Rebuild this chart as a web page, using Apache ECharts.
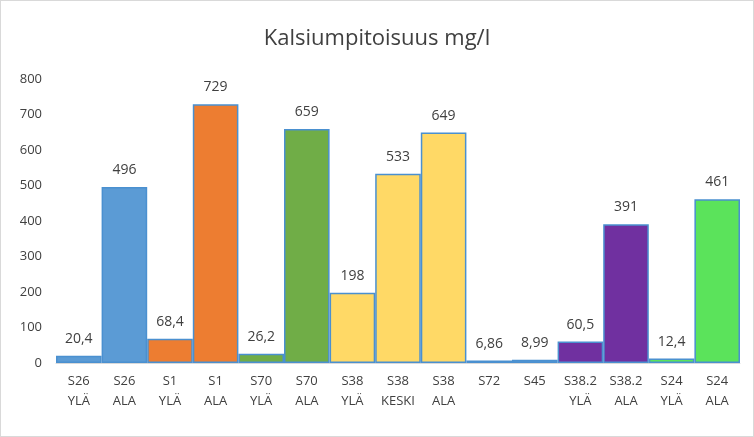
<!DOCTYPE html>
<html><head><meta charset="utf-8">
<script src="https://cdn.jsdelivr.net/npm/echarts@6/dist/echarts.min.js"></script>
<style>html,body{margin:0;padding:0;background:#fff}#main{width:752px;height:435px;border:1px solid #d9d9d9}</style>
</head><body><div id="main"></div>
<script>
var categories = ['S26\nYLÄ','S26\nALA','S1\nYLÄ','S1\nALA','S70\nYLÄ','S70\nALA','S38\nYLÄ','S38\nKESKI','S38\nALA','S72','S45','S38.2\nYLÄ','S38.2\nALA','S24\nYLÄ','S24\nALA'];
var values = [20.4, 496, 68.4, 729, 26.2, 659, 198, 533, 649, 6.86, 8.99, 60.5, 391, 12.4, 461];
var colors = ['#5B9BD5','#5B9BD5','#ED7D31','#ED7D31','#70AD47','#70AD47','#FFD966','#FFD966','#FFD966','#5B9BD5','#5B9BD5','#7030A0','#7030A0','#5BE35B','#5BE35B'];

var myChart = echarts.init(document.getElementById('main'));
var option = {
    textStyle: { fontFamily: 'Open Sans' },
    title: {
        text: 'Kalsiumpitoisuus mg/l',
        left: 'center', top: 22,
        textStyle: { fontSize: 22, fontWeight: 'normal', color: '#404040', fontFamily: 'Open Sans' }
    },
    grid: { left: 55, right: 13, top: 78, bottom: 73 },
    xAxis: {
        type: 'category',
        data: categories,
        axisTick: { show: false },
        axisLine: { lineStyle: { color: '#d9d9d9' } },
        axisLabel: { color: '#404040', fontSize: 13, interval: 0, lineHeight: 20 }
    },
    yAxis: {
        type: 'value', min: 0, max: 800, interval: 100,
        splitLine: { show: false },
        axisLabel: { color: '#404040', fontSize: 13, margin: 14 }
    },
    series: [{
        type: 'bar',
        barCategoryGap: 0,
        data: values.map(function (v, i) {
            return { value: v, itemStyle: { color: colors[i] } };
        }),
        itemStyle: { borderColor: '#4A90D0', borderWidth: 1.5 },
        label: {
            show: true, position: 'top', distance: 10, color: '#404040', fontSize: 14,
            formatter: function (p) { return String(p.value).replace('.', ','); }
        }
    }]
};
myChart.setOption(option);
</script></body></html>
